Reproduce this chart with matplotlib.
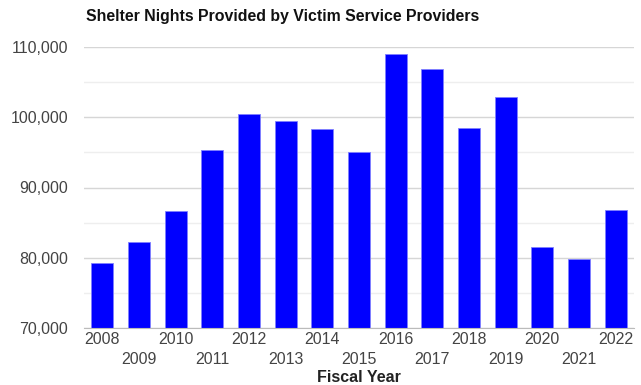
import matplotlib.pyplot as plt
from matplotlib.ticker import FuncFormatter, MultipleLocator

plt.rcParams["font.family"] = ["Liberation Sans", "DejaVu Sans"]

years = list(range(2008, 2023))
shelter_nights = [79230, 82200, 86700, 95300, 100500, 99400, 98300, 95100,
                  108900, 106800, 98400, 102900, 81600, 79900, 86850]
y_ticks = [70000, 80000, 90000, 100000, 110000]

fig = plt.figure(figsize=(6.41, 3.85), dpi=100)
ax = fig.add_axes([84 / 641, 1 - 328.3 / 385, 550 / 641, (328.3 - 46.7) / 385])

x = list(range(len(years)))
ax.bar(x, shelter_nights, width=0.6, color="#0000FF", edgecolor="#8080FF",
       linewidth=0.6, zorder=3)

ax.set_xlim(-0.5, len(years) - 0.5)
ax.set_ylim(70000, 110000)
ax.set_yticks(y_ticks)
ax.yaxis.set_minor_locator(MultipleLocator(5000))
ax.yaxis.set_major_formatter(FuncFormatter(lambda v, _: f"{int(v):,}"))
ax.grid(axis="y", which="major", color="#d6d6d6", linewidth=1.0, zorder=0)
ax.grid(axis="y", which="minor", color="#eeeeee", linewidth=1.0, zorder=0)
ax.tick_params(axis="y", which="both", length=0, pad=11.5, labelsize=11.5,
               labelcolor="#444444")
ax.tick_params(axis="x", length=0)

# staggered year labels: even years on top row, odd years below
ax.set_xticks(x)
ax.set_xticklabels([])
for i, yr in enumerate(years):
    dy = -8.4 if i % 2 == 0 else -22.3
    ax.annotate(str(yr), (i, 70000), xytext=(0, dy), textcoords="offset points",
                ha="center", va="center", fontsize=11.5, color="#444444",
                annotation_clip=False)

for side in ("left", "right", "top"):
    ax.spines[side].set_visible(False)
ax.spines["bottom"].set_color("#bbbbbb")
ax.spines["bottom"].set_zorder(4)

fig.text(86 / 641, 1 - 16 / 385, "Shelter Nights Provided by Victim Service Providers",
         fontsize=11.4, fontweight="bold", color="#111111", ha="left", va="center")
fig.text(359 / 641, 1 - 378 / 385, "Fiscal Year", fontsize=11.5, fontweight="bold",
         color="#222222", ha="center", va="center")

fig.savefig("out.png", dpi=100)
